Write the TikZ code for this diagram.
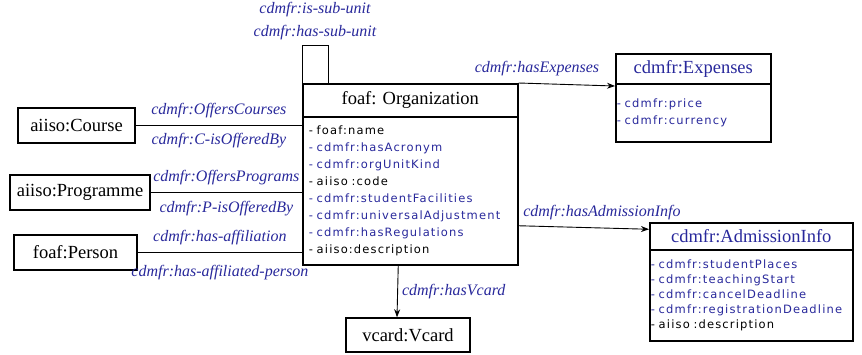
\documentclass[tikz,border=0pt]{standalone}
\usepackage{fontspec}
\setmainfont{Liberation Serif}
\newfontfamily\attrfont[LetterSpace=10]{DejaVu Sans}
\usepackage{xcolor}
\usetikzlibrary{arrows.meta,positioning}
\definecolor{propblue}{RGB}{40,40,155}
\newcommand{\bluetxt}[1]{\textcolor{propblue}{#1}}

\begin{document}
\begin{tikzpicture}[
    x=1pt, y=-1pt,
    cls/.style={draw, line width=1.5pt, inner sep=0pt, align=center,
                font=\fontsize{18.5}{20}\selectfont},
    head/.style={cls, anchor=north west},
    attrs/.style={draw, line width=1.5pt, anchor=north west, align=left,
                  inner ysep=0pt, font=\attrfont\fontsize{11.5}{17}\selectfont},
    lbl/.style={font=\itshape\fontsize{16}{20}\selectfont, text=propblue,
                inner sep=2pt, align=center},
    link/.style={line width=0.9pt},
    arr/.style={link, -{Stealth[length=8pt, width=6pt]}}
  ]
    \useasboundingbox (0,0) rectangle (862,354);

    % main class
    \node[head, minimum width=215, minimum height=33] (orgH) at (302,83) {foaf: Organization};
    \node[attrs, minimum width=215, minimum height=148, text width=203, inner xsep=6pt]
      (orgA) at (302,116) {- foaf:name\\
      \bluetxt{- cdmfr:hasAcronym}\\
      \bluetxt{- cdmfr:orgUnitKind}\\
      - aiiso :code\\
      \bluetxt{- cdmfr:studentFacilities}\\
      \bluetxt{- cdmfr:universalAdjustment}\\
      \bluetxt{- cdmfr:hasRegulations}\\
      - aiiso:description};

    % linked classes
    \node[cls, minimum width=117, minimum height=35] (course) at (76.5,125.5) {aiiso:Course};
    \node[cls, minimum width=140, minimum height=35] (prog)   at (80,192.5)   {aiiso:Programme};
    \node[cls, minimum width=123, minimum height=35] (person) at (75.5,252.5) {foaf:Person};
    \node[cls, minimum width=124, minimum height=34] (vcard)  at (408,335)    {vcard:Vcard};

    \node[head, minimum width=155, minimum height=30, text=propblue] (expH) at (615,53) {cdmfr:Expenses};
    \node[attrs, minimum width=155, minimum height=58, text width=153, inner xsep=1pt, text=propblue]
      (expA) at (615,83) {- cdmfr:price\\- cdmfr:currency};

    \node[head, minimum width=203, minimum height=27, text=propblue] (admH) at (649,222) {cdmfr:AdmissionInfo};
    \node[attrs, minimum width=203, minimum height=91, text width=201, inner xsep=1pt,
          font=\attrfont\fontsize{11.5}{15}\selectfont]
      (admA) at (649,249) {\bluetxt{- cdmfr:studentPlaces}\\
      \bluetxt{- cdmfr:teachingStart}\\
      \bluetxt{- cdmfr:cancelDeadline}\\
      \bluetxt{- cdmfr:registrationDeadline}\\
      - aiiso :description};

    % self loop
    \draw[link] (orgH.north west) -- ++(0,-38) coordinate (loop) -| ([xshift=26pt]orgH.north west);
    \node[lbl, above=3pt] (loopL) at ([xshift=13pt]loop) {cdmfr:is-sub-unit\\[3pt]cdmfr:has-sub-unit};

    % associations
    \draw[link] (course.east) -- node[lbl, above=5pt] {cdmfr:OffersCourses}
      node[lbl, below=5pt] {cdmfr:C-isOfferedBy} (course.east -| orgA.west);
    \draw[link] (prog.east) -- node[lbl, above=5pt] {cdmfr:OffersPrograms}
      node[lbl, below=6pt] {cdmfr:P-isOfferedBy} (prog.east -| orgA.west);
    \draw[link] (person.east) -- node[lbl, above=5pt] {cdmfr:has-affiliation}
      node[lbl, below=10pt] {cdmfr:has-affiliated-person} (person.east -| orgA.west);

    \draw[arr] (orgH.north east) -- ([yshift=-3pt]expA.north west);
    \node[lbl] (expL) at (537,69) {cdmfr:hasExpenses};

    \draw[arr] ([yshift=-35pt]orgA.east) -- ([yshift=7pt]admH.west);
    \node[lbl] (admL) at (602,213) {cdmfr:hasAdmissionInfo};

    \draw[arr] ([xshift=-12pt]orgA.south) -- ([xshift=-11pt]vcard.north)
      node[lbl, right=2pt, midway] {cdmfr:hasVcard};
  \end{tikzpicture}
\end{document}
